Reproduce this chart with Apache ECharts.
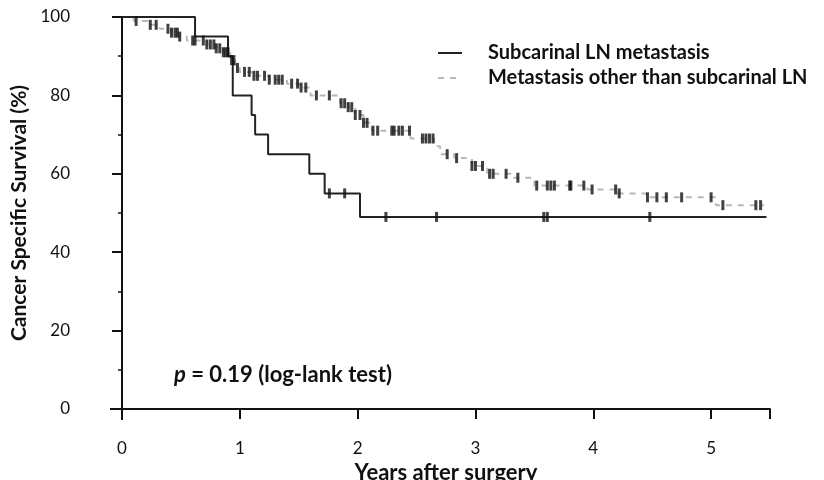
<!DOCTYPE html>
<html>
<head>
<meta charset="utf-8">
<script src="https://cdn.jsdelivr.net/npm/echarts@6/dist/echarts.min.js"></script>
<style>
  html, body { margin: 0; padding: 0; background: #fff; }
  #chart { width: 824px; height: 480px; }
</style>
</head>
<body>
<div id="chart"></div>
<script>
// 曲线数据 (years, survival %)
var blackTimes = [0, 0.62, 0.9, 0.94, 1.1, 1.13, 1.24, 1.59, 1.72, 2.02, 5.47]
var blackSurv = [100, 95, 90, 80, 75, 70, 65, 60, 55, 49, 49]
var blackCensor = [1.76, 1.89, 2.24, 2.67, 3.58, 3.61, 4.48]

var grayTimes = [0, 0.1, 0.22, 0.32, 0.42, 0.48, 0.55, 0.72, 0.8, 0.86, 0.92, 0.96, 1.0, 1.1, 1.25,
  1.4, 1.5, 1.6, 1.85, 1.92, 1.98, 2.05, 2.12, 2.45, 2.65, 2.7, 2.82, 2.97, 3.1, 3.3, 3.5,
  3.95, 4.2, 4.45, 5.04, 5.45]
var graySurv = [100, 99, 98, 97, 96, 95, 94, 93, 92, 91, 89, 87, 86, 85, 84,
  83, 82, 80, 78, 77, 75, 73, 71, 69, 67, 65, 64, 62, 60, 59, 57,
  56, 55, 54, 52, 52]
var grayCensor = [0.12, 0.24, 0.29, 0.39, 0.42, 0.45, 0.47, 0.49, 0.6, 0.62, 0.69, 0.72, 0.75,
  0.78, 0.8, 0.83, 0.86, 0.88, 0.9, 0.93, 0.95, 0.98, 1.04, 1.08, 1.12, 1.15, 1.21, 1.25,
  1.3, 1.33, 1.36, 1.44, 1.49, 1.52, 1.56, 1.65, 1.76, 1.86, 1.89, 1.92, 1.95, 1.98, 2.02,
  2.05, 2.08, 2.13, 2.17, 2.29, 2.31, 2.35, 2.38, 2.44, 2.55, 2.58, 2.61, 2.64, 2.76, 2.84,
  2.97, 3.0, 3.06, 3.12, 3.15, 3.26, 3.36, 3.52, 3.61, 3.64, 3.67, 3.8, 3.81, 3.92, 3.99,
  4.19, 4.22, 4.46, 4.54, 4.62, 4.75, 5.0, 5.1, 5.38, 5.42]

var xTicks = [0, 1, 2, 3, 4, 5]
var yTicks = [0, 20, 40, 60, 80, 100]

var nameA = 'Subcarinal LN metastasis'
var nameB = 'Metastasis other than subcarinal LN'

function pairs (ts, ss) {
  return ts.map(function (t, i) { return [t, ss[i]] })
}
// 删失点取该时刻的生存率
function levelAt (ts, ss, t) {
  var v = ss[0]
  for (var i = 0; i < ts.length; i++) {
    if (ts[i] <= t) v = ss[i]
  }
  return v
}
function censorPts (cs, ts, ss) {
  return cs.map(function (t) { return [t, levelAt(ts, ss, t)] })
}

var font = 'Lato, "Open Sans", sans-serif'
var chart = echarts.init(document.getElementById('chart'))
var option = {
  animation: false,
  grid: { left: 122, right: 54, top: 17, bottom: 71, containLabel: false, outerBoundsMode: 'none' },
  legend: {
    data: [nameA, nameB],
    orient: 'vertical',
    left: 432,
    top: 38,
    itemWidth: 24,
    itemHeight: 12,
    itemGap: 5,
    itemStyle: { opacity: 0 },
    textStyle: { fontFamily: font, fontSize: 20, fontWeight: 'bold', color: '#111', padding: [0, 0, 0, 21] }
  },
  xAxis: {
    type: 'value',
    min: 0,
    max: 5.5,
    interval: 1,
    name: 'Years after surgery',
    nameLocation: 'middle',
    nameGap: 53,
    nameTextStyle: { fontFamily: font, fontSize: 22, fontWeight: 'bold', color: '#111' },
    axisLine: { onZero: false, lineStyle: { color: '#111', width: 2 } },
    axisTick: { show: true, length: 10, lineStyle: { color: '#111', width: 2 } },
    axisLabel: {
      fontFamily: font, fontSize: 17, color: '#111', margin: 31,
      formatter: function (v) { return xTicks.indexOf(v) >= 0 ? String(v) : '' }
    },
    splitLine: { show: false }
  },
  yAxis: {
    type: 'value',
    min: 0,
    max: 100,
    interval: 20,
    name: 'Cancer Specific Survival (%)',
    nameLocation: 'middle',
    nameGap: 88,
    nameTextStyle: { fontFamily: font, fontSize: 21, fontWeight: 'bold', color: '#111' },
    axisLine: { show: true, lineStyle: { color: '#111', width: 2 } },
    axisTick: { show: true, length: 10, lineStyle: { color: '#111', width: 2 } },
    minorTick: { show: true, splitNumber: 2, length: 4, lineStyle: { color: '#111', width: 1.5 } },
    axisLabel: {
      fontFamily: font, fontSize: 17, color: '#111', margin: 52,
      formatter: function (v) { return yTicks.indexOf(v) >= 0 ? String(v) : '' }
    },
    splitLine: { show: false }
  },
  graphic: [
    // 轴线延伸
    { type: 'line', shape: { x1: 110, y1: 409, x2: 122, y2: 409 }, style: { stroke: '#111', lineWidth: 2 } },
    { type: 'line', shape: { x1: 122, y1: 409, x2: 122, y2: 420 }, style: { stroke: '#111', lineWidth: 2 } },
    {
      type: 'text',
      left: 174,
      top: 364,
      style: {
        text: '{i|p} = 0.19 (log-lank test)',
        fontFamily: font,
        fontSize: 22,
        fontWeight: 'bold',
        fill: '#111',
        rich: {
          i: { fontFamily: font, fontSize: 22, fontWeight: 'bold', fontStyle: 'italic', fill: '#111' }
        }
      }
    }
  ],
  series: [
    {
      name: nameB,
      type: 'line',
      step: 'end',
      symbol: 'none',
      data: pairs(grayTimes, graySurv),
      lineStyle: { color: '#b8b8b8', width: 2, type: [6, 6] },
      itemStyle: { color: '#b8b8b8' },
      z: 2
    },
    {
      name: nameA,
      type: 'line',
      step: 'end',
      symbol: 'none',
      data: pairs(blackTimes, blackSurv),
      lineStyle: { color: '#222', width: 2 },
      itemStyle: { color: '#222' },
      z: 3
    },
    {
      name: 'censorB',
      type: 'scatter',
      symbol: 'rect',
      symbolSize: [3, 10],
      data: censorPts(grayCensor, grayTimes, graySurv),
      itemStyle: { color: '#111' },
      z: 4
    },
    {
      name: 'censorA',
      type: 'scatter',
      symbol: 'rect',
      symbolSize: [3, 10],
      data: censorPts(blackCensor, blackTimes, blackSurv),
      itemStyle: { color: '#111' },
      z: 4
    }
  ]
}
chart.setOption(option)
</script>
</body>
</html>
